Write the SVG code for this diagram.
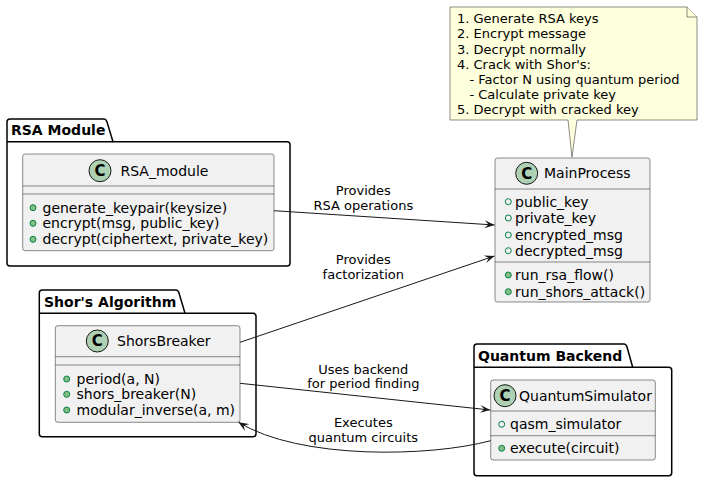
<svg xmlns="http://www.w3.org/2000/svg" width="701" height="481" viewBox="0 0 701 481">
<style>
text{font-family:"DejaVu Sans","Liberation Sans",sans-serif;fill:#000}
.cls{fill:#F1F1F1;stroke:#181818;stroke-width:0.5}
.sep{stroke:#181818;stroke-width:0.5}
.ci{fill:#ADD1B2;stroke:#181818;stroke-width:1}
.cl{font-size:15px;font-weight:bold;text-anchor:middle}
.nm{font-size:14px}
.mb{font-size:14px}
.pk{fill:none;stroke:#000;stroke-width:1.5}
.pt{font-size:14px;font-weight:bold}
.lb{font-size:13px;text-anchor:middle}
.nt{font-size:13px}
.fm{fill:#84BE84;stroke:#038048;stroke-width:1}
.fa{fill:none;stroke:#038048;stroke-width:1}
.ed{fill:none;stroke:#181818;stroke-width:1}
</style>
<defs>
<marker id="ah" viewBox="0 0 10 10" refX="10" refY="5" markerWidth="10" markerHeight="10" orient="auto" markerUnits="userSpaceOnUse">
<path d="M0,1 L10,5 L0,9 L4,5 Z" fill="#181818"/>
</marker>
</defs>

<g id="pkg-rsa">
<path class="pk" d="M7,122 Q7,119 10,119 L104,119 Q106,119 107,122 L113,141.7 L287,141.7 Q290,141.7 290,144.7 L290,263 Q290,266 287,266 L10,266 Q7,266 7,263 Z"/>
<line class="pk" x1="7" y1="141.7" x2="113" y2="141.7"/>
<text class="pt" x="11" y="135">RSA Module</text>
</g>

<g id="pkg-shor">
<path class="pk" d="M39.3,293 Q39.3,290 42.3,290 L176,290 Q178,290 179,293 L185,313.3 L253,313.3 Q256,313.3 256,316.3 L256,433.7 Q256,436.7 253,436.7 L42.3,436.7 Q39.3,436.7 39.3,433.7 Z"/>
<line class="pk" x1="39.3" y1="313.3" x2="185" y2="313.3"/>
<text class="pt" x="44" y="306.5">Shor's Algorithm</text>
</g>

<g id="pkg-quantum">
<path class="pk" d="M474,347 Q474,344 477,344 L624,344 Q626,344 627,347 L632.7,367.3 L668.7,367.3 Q671.7,367.3 671.7,370.3 L671.7,472.7 Q671.7,475.7 668.7,475.7 L477,475.7 Q474,475.7 474,472.7 Z"/>
<line class="pk" x1="474" y1="367.3" x2="632.7" y2="367.3"/>
<text class="pt" x="478" y="361">Quantum Backend</text>
</g>

<g id="note">
<path d="M450,7 L687,7 L697,17 L697,120 L577,120 L572,157 L568,120 L450,120 Z" fill="#FEFFDD" stroke="#181818" stroke-width="0.5"/>
<path d="M687,7 L687,17 L697,17" fill="#FEFFDD" stroke="#181818" stroke-width="0.5"/>
<text class="nt" x="457" y="23">1. Generate RSA keys</text>
<text class="nt" x="457" y="38">2. Encrypt message</text>
<text class="nt" x="457" y="53.5">3. Decrypt normally</text>
<text class="nt" x="457" y="68.5">4. Crack with Shor's:</text>
<text class="nt" x="457" y="84" xml:space="preserve">   - Factor N using quantum period</text>
<text class="nt" x="457" y="99" xml:space="preserve">   - Calculate private key</text>
<text class="nt" x="457" y="114">5. Decrypt with cracked key</text>
</g>

<g id="RSA_module">
<rect class="cls" x="22.7" y="154" width="251.3" height="96.7" rx="2.5"/>
<line class="sep" x1="22.7" y1="186" x2="274" y2="186"/>
<line class="sep" x1="22.7" y1="194" x2="274" y2="194"/>
<circle class="ci" cx="100" cy="170.7" r="11"/>
<text class="cl" x="100" y="176">C</text>
<text class="nm" x="120.5" y="175.7">RSA_module</text>
<circle class="fm" cx="33" cy="207.7" r="3"/>
<text class="mb" x="42.5" y="212.7">generate_keypair(keysize)</text>
<circle class="fm" cx="33" cy="223.3" r="3"/>
<text class="mb" x="42.5" y="228.3">encrypt(msg, public_key)</text>
<circle class="fm" cx="33" cy="239.3" r="3"/>
<text class="mb" x="42.5" y="244.3">decrypt(ciphertext, private_key)</text>
</g>

<g id="MainProcess">
<rect class="cls" x="495" y="158" width="155" height="144" rx="2.5"/>
<line class="sep" x1="495" y1="189" x2="650" y2="189"/>
<line class="sep" x1="495" y1="262" x2="650" y2="262"/>
<circle class="ci" cx="526.7" cy="173.3" r="11"/>
<text class="cl" x="526.7" y="178.6">C</text>
<text class="nm" x="544" y="178.3">MainProcess</text>
<circle class="fa" cx="508.3" cy="201.7" r="3"/>
<text class="mb" x="515" y="206.7">public_key</text>
<circle class="fa" cx="508.3" cy="218" r="3"/>
<text class="mb" x="515" y="223">private_key</text>
<circle class="fa" cx="508.3" cy="235" r="3"/>
<text class="mb" x="515" y="240">encrypted_msg</text>
<circle class="fa" cx="508.3" cy="250.7" r="3"/>
<text class="mb" x="515" y="255.7">decrypted_msg</text>
<circle class="fm" cx="508.3" cy="275" r="3"/>
<text class="mb" x="515" y="280">run_rsa_flow()</text>
<circle class="fm" cx="508.3" cy="291.7" r="3"/>
<text class="mb" x="515" y="296.7">run_shors_attack()</text>
</g>

<g id="ShorsBreaker">
<rect class="cls" x="55.3" y="325.7" width="184.7" height="96.6" rx="2.5"/>
<line class="sep" x1="55.3" y1="356.7" x2="240" y2="356.7"/>
<line class="sep" x1="55.3" y1="365" x2="240" y2="365"/>
<circle class="ci" cx="97.3" cy="341" r="11"/>
<text class="cl" x="97.3" y="346.3">C</text>
<text class="nm" x="117" y="346">ShorsBreaker</text>
<circle class="fm" cx="66.7" cy="379" r="3"/>
<text class="mb" x="76.5" y="384">period(a, N)</text>
<circle class="fm" cx="66.7" cy="394.3" r="3"/>
<text class="mb" x="76.5" y="399.3">shors_breaker(N)</text>
<circle class="fm" cx="66.7" cy="410" r="3"/>
<text class="mb" x="76.5" y="415">modular_inverse(a, m)</text>
</g>

<g id="QuantumSimulator">
<rect class="cls" x="490.7" y="380" width="164.6" height="80" rx="2.5"/>
<line class="sep" x1="490.7" y1="411" x2="655.3" y2="411"/>
<line class="sep" x1="490.7" y1="435.7" x2="655.3" y2="435.7"/>
<circle class="ci" cx="505" cy="395.7" r="11"/>
<text class="cl" x="505" y="401">C</text>
<text class="nm" x="519" y="400.7">QuantumSimulator</text>
<circle class="fa" cx="501.7" cy="424.3" r="3"/>
<text class="mb" x="510" y="429.3">qasm_simulator</text>
<circle class="fm" cx="501.7" cy="448.3" r="3"/>
<text class="mb" x="510" y="453.3">execute(circuit)</text>
</g>

<g id="connectors">
<path class="ed" d="M274,210.7 L494.5,225" marker-end="url(#ah)"/>
<text class="lb" x="363.3" y="194.5">Provides</text>
<text class="lb" x="363.3" y="209.5">RSA operations</text>
<path class="ed" d="M240,342.3 L494.5,256" marker-end="url(#ah)"/>
<text class="lb" x="363.3" y="264">Provides</text>
<text class="lb" x="363.3" y="279">factorization</text>
<path class="ed" d="M240,383.3 L490.2,410" marker-end="url(#ah)"/>
<text class="lb" x="363.3" y="373.5">Uses backend</text>
<text class="lb" x="363.3" y="388">for period finding</text>
<path class="ed" d="M490.7,440.7 C430,457 300,460 238.5,422.3" marker-end="url(#ah)"/>
<text class="lb" x="363.3" y="427">Executes</text>
<text class="lb" x="363.3" y="442">quantum circuits</text>
</g>
</svg>
